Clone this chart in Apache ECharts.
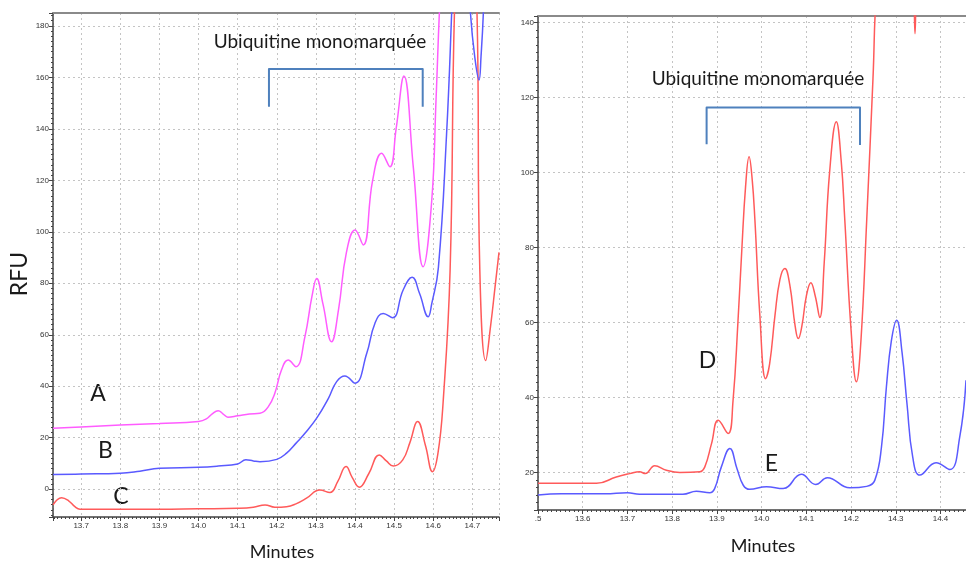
<!DOCTYPE html>
<html lang="fr">
<head>
    <meta charset="UTF-8">
    <title>Ubiquitine monomarquée</title>
    <script src="https://cdn.jsdelivr.net/npm/echarts@6.0.0/dist/echarts.min.js"></script>
    <style>
        html, body { margin: 0; padding: 0; background: #fff; }
        #chart { width: 966px; height: 565px; }
    </style>
</head>
<body>
    <div id="chart"></div>

    <script>
// Panneau gauche : traces A, B, C (minutes / RFU)
const minutesA = [13.628, 13.7, 13.8, 13.9, 14.0, 14.02, 14.035, 14.05, 14.063, 14.075, 14.1, 14.13, 14.157, 14.178, 14.195, 14.212, 14.229, 14.249, 14.272, 14.29, 14.302, 14.318, 14.34, 14.358, 14.378, 14.4, 14.421, 14.445, 14.468, 14.489, 14.505, 14.525, 14.549, 14.574, 14.596, 14.607, 14.617, 14.64, 14.768];
const rfuA = [23.7, 24.2, 24.9, 25.5, 26.3, 27.3, 29.3, 30.5, 29.2, 28, 28.5, 29.2, 29.5, 32, 37.3, 46.3, 50.2, 47.6, 59.3, 75, 81.9, 72, 57.3, 70, 92, 100.7, 94.9, 120, 130.5, 125.3, 140, 160.5, 125, 86.4, 112, 151, 190, 260, 260];

const minutesB = [13.628, 13.7, 13.8, 13.85, 13.9, 14.0, 14.05, 14.1, 14.121, 14.14, 14.157, 14.2, 14.225, 14.25, 14.272, 14.302, 14.332, 14.353, 14.374, 14.4, 14.43, 14.451, 14.472, 14.496, 14.523, 14.546, 14.565, 14.587, 14.596, 14.613, 14.634, 14.647, 14.665, 14.695, 14.706, 14.717, 14.722, 14.728, 14.745, 14.768];
const rfuB = [5.7, 5.9, 6.2, 7, 8.1, 8.5, 9, 9.8, 11.4, 11, 10.7, 11.6, 14, 18, 21.7, 27.6, 35.3, 41.8, 44, 41.2, 52.8, 64.5, 68.3, 66.6, 77.4, 82.3, 76, 67, 72, 86, 138, 185, 260, 185, 168, 159, 168, 185, 260, 280];

const minutesC = [13.628, 13.65, 13.668, 13.684, 13.697, 13.8, 13.9, 14.0, 14.1, 14.14, 14.17, 14.195, 14.225, 14.249, 14.276, 14.31, 14.336, 14.356, 14.377, 14.393, 14.411, 14.435, 14.462, 14.48, 14.498, 14.522, 14.54, 14.56, 14.58, 14.598, 14.612, 14.625, 14.643, 14.655, 14.68, 14.711, 14.719, 14.734, 14.747, 14.758, 14.768];
const rfuC = [-6.1, -3.3, -4.5, -6.8, -7.8, -7.8, -7.8, -7.6, -7.4, -7, -6.1, -7, -6.8, -5.7, -3.5, -0.3, -1.3, 3, 8.8, 4.5, 0.8, 6, 13.3, 11, 9, 11.4, 18, 26.3, 17, 6.8, 14, 33.4, 85, 190, 280, 190, 85, 50, 64, 78.7, 92];

// Panneau droit : traces D, E
const minutesD = [13.5, 13.631, 13.675, 13.705, 13.727, 13.74, 13.761, 13.787, 13.817, 13.862, 13.873, 13.888, 13.903, 13.925, 13.936, 13.947, 13.956, 13.964, 13.972, 13.979, 13.985, 13.996, 14.009, 14.018, 14.03, 14.041, 14.052, 14.063, 14.075, 14.082, 14.09, 14.1, 14.11, 14.12, 14.13, 14.14, 14.152, 14.167, 14.178, 14.186, 14.2, 14.212, 14.222, 14.235, 14.249, 14.258, 14.3, 14.338, 14.343, 14.348, 14.4, 14.457];
const rfuD = [17.1, 17.1, 18.8, 19.7, 20.2, 19.7, 21.8, 20.6, 20, 20.2, 21.5, 27.7, 33.9, 30.4, 39, 60, 80, 96, 104.2, 98, 87.3, 62, 45, 49, 62, 71.5, 74.4, 70, 59, 55.7, 59, 67, 70.6, 67, 61.3, 76, 100, 113.5, 103, 87.3, 58, 44.2, 55, 87.3, 125, 150, 200, 160, 137, 160, 200, 200];

const minutesE = [13.5, 13.552, 13.65, 13.7, 13.727, 13.824, 13.854, 13.884, 13.895, 13.91, 13.929, 13.945, 13.959, 13.973, 14.011, 14.048, 14.089, 14.121, 14.147, 14.197, 14.235, 14.253, 14.268, 14.279, 14.29, 14.302, 14.314, 14.325, 14.338, 14.354, 14.39, 14.421, 14.443, 14.457];
const rfuE = [14, 14.3, 14.3, 14.6, 14.2, 14.2, 15, 14.6, 15.7, 21.5, 26.4, 21, 16.6, 15.5, 16.2, 15.7, 19.5, 16.8, 18.6, 15.9, 16.3, 17.9, 26.8, 42.8, 55, 60.6, 52, 38.4, 24, 19.3, 22.6, 20.8, 29.5, 44.6];

// Accolades "Ubiquitine monomarquée"
const bracketLeftMinutes = [14.18, 14.18, 14.573, 14.573];
const bracketLeftRfu = [148.6, 163.2, 163.2, 148.6];
const bracketRightMinutes = [13.877, 13.877, 14.22, 14.22];
const bracketRightRfu = [107.5, 117.3, 117.3, 107.3];

const zip = (xs, ys) => xs.map((x, i) => [x, ys[i]]);

const chart = echarts.init(document.getElementById('chart'));

const tickFont = { fontFamily: 'Liberation Sans', fontSize: 8, color: '#333' };
const axisColor = '#444';

function valueXAxis(grid, min, max, split) {
    return {
        type: 'value', gridIndex: grid, min: min, max: max, splitNumber: split,
        axisLine: { show: true, onZero: false, lineStyle: { color: axisColor, width: 1.5 } },
        axisTick: { show: true, length: 4, lineStyle: { color: axisColor } },
        minorTick: { show: true, splitNumber: 10, length: 2, lineStyle: { color: axisColor } },
        axisLabel: Object.assign({
            margin: 5, showMinLabel: grid === 1, showMaxLabel: false,
            formatter: v => (Math.abs(v - 13.5) < 1e-6 ? '.5' : v.toFixed(1))
        }, tickFont),
        splitLine: { show: true, lineStyle: { color: '#c4c4c4', type: [2, 3] } }
    };
}

function topBorder(grid, min, max) {
    return {
        type: 'value', gridIndex: grid, position: 'top', min: min, max: max,
        axisLine: { show: true, onZero: false, lineStyle: { color: '#8a8a8a', width: 2 } },
        axisTick: { show: false }, axisLabel: { show: false }, splitLine: { show: false }
    };
}

function valueYAxis(grid, min, max, split) {
    return {
        type: 'value', gridIndex: grid, min: min, max: max, splitNumber: split,
        axisLine: { show: true, onZero: false, lineStyle: { color: axisColor, width: 1.5 } },
        axisTick: { show: true, length: 4, lineStyle: { color: axisColor } },
        minorTick: { show: true, splitNumber: 10, length: 2, lineStyle: { color: axisColor } },
        axisLabel: Object.assign({ margin: 4, showMinLabel: false, showMaxLabel: false }, tickFont),
        splitLine: { show: true, lineStyle: { color: '#c4c4c4', type: [2, 3] } }
    };
}

function trace(name, xi, yi, data, color) {
    return {
        name: name, type: 'line', xAxisIndex: xi, yAxisIndex: yi, data: data,
        showSymbol: false, smooth: 0.45, clip: true,
        lineStyle: { color: color, width: 1.5 }, silent: true
    };
}

function bracket(xi, yi, data) {
    return {
        type: 'line', xAxisIndex: xi, yAxisIndex: yi, data: data,
        showSymbol: false, clip: false, silent: true,
        lineStyle: { color: '#4f81bd', width: 2, join: 'round' }
    };
}

const textStyle = (text, size) => ({ text: text, font: size + 'px Lato', fill: '#1a1a1a', align: 'center', verticalAlign: 'middle' });

const option = {
    animation: false,
    backgroundColor: '#fff',
    grid: [
        { left: 53, top: 13, width: 446, height: 504 },
        { left: 538, top: 16, width: 428, height: 494 }
    ],
    xAxis: [
        valueXAxis(0, 13.628, 14.768, 11),
        valueXAxis(1, 13.5, 14.457, 10),
        topBorder(0, 13.628, 14.768),
        topBorder(1, 13.5, 14.457)
    ],
    yAxis: [
        valueYAxis(0, -10.8, 185, 10),
        valueYAxis(1, 10, 141.7, 7)
    ],
    series: [
        trace('C', 0, 0, zip(minutesC, rfuC), '#ff5a5a'),
        trace('B', 0, 0, zip(minutesB, rfuB), '#5a5aff'),
        trace('A', 0, 0, zip(minutesA, rfuA), '#ff5cff'),
        trace('E', 1, 1, zip(minutesE, rfuE), '#5a5aff'),
        trace('D', 1, 1, zip(minutesD, rfuD), '#ff5a5a'),
        bracket(0, 0, zip(bracketLeftMinutes, bracketLeftRfu)),
        bracket(1, 1, zip(bracketRightMinutes, bracketRightRfu))
    ],
    graphic: [
        { type: 'text', x: 320, y: 42, style: textStyle('Ubiquitine monomarquée', 19) },
        { type: 'text', x: 758, y: 79, style: textStyle('Ubiquitine monomarquée', 19) },
        { type: 'text', x: 98, y: 394, style: textStyle('A', 23) },
        { type: 'text', x: 105.5, y: 451, style: textStyle('B', 23) },
        { type: 'text', x: 121, y: 497, style: textStyle('C', 23) },
        { type: 'text', x: 707.5, y: 361, style: textStyle('D', 23) },
        { type: 'text', x: 771.5, y: 464, style: textStyle('E', 23) },
        { type: 'text', x: 20, y: 274, rotation: Math.PI / 2, style: textStyle('RFU', 23) },
        { type: 'text', x: 282, y: 552, style: textStyle('Minutes', 18) },
        { type: 'text', x: 763, y: 546, style: textStyle('Minutes', 18) }
    ]
};

chart.setOption(option);
    </script>
</body>
</html>
